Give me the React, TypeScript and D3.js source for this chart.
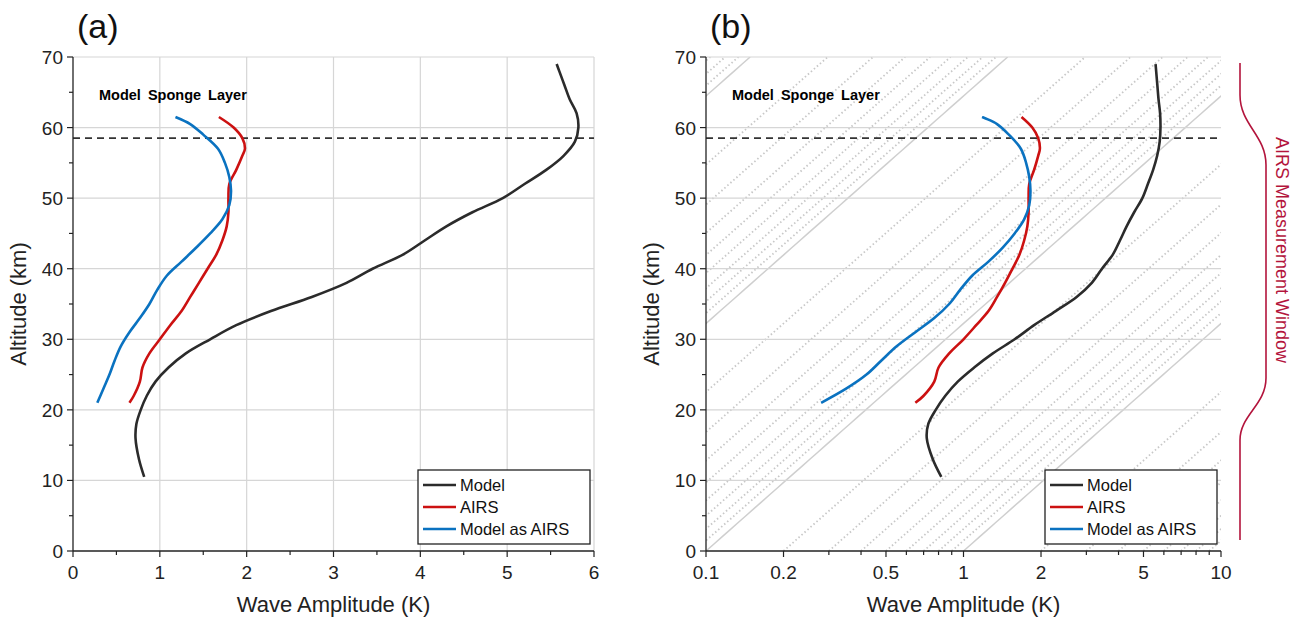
import React from "react";
import * as d3 from "d3";

const modelZ = [10.5, 13, 16, 18, 20, 22, 24, 26, 28, 30, 32, 34, 36, 38, 40, 42, 44, 46, 48, 50, 52, 54, 56, 58, 60, 62, 64, 66, 68, 69];
const modelA = [0.82, 0.76, 0.72, 0.73, 0.78, 0.85, 0.95, 1.1, 1.3, 1.58, 1.88, 2.28, 2.75, 3.15, 3.45, 3.8, 4.05, 4.3, 4.6, 4.95, 5.2, 5.45, 5.65, 5.78, 5.82, 5.8, 5.72, 5.66, 5.6, 5.57];
const airsZ = [21, 22, 24, 26, 28, 30, 32, 34, 36, 38, 40, 42, 44, 46, 48, 50, 52, 54, 56, 57, 58.5, 60, 61.5];
const airsA = [0.65, 0.7, 0.77, 0.8, 0.88, 1.0, 1.12, 1.25, 1.35, 1.45, 1.55, 1.65, 1.72, 1.77, 1.79, 1.79, 1.8, 1.88, 1.95, 1.98, 1.95, 1.85, 1.68];
const masZ = [21, 23, 25, 27, 29, 31, 33, 35, 37, 39, 41, 43, 45, 47, 49, 51, 53, 55, 57, 59, 60.5, 61.5];
const masA = [0.28, 0.35, 0.42, 0.48, 0.55, 0.65, 0.77, 0.88, 0.97, 1.08, 1.25, 1.42, 1.58, 1.72, 1.8, 1.82, 1.8, 1.75, 1.67, 1.5, 1.35, 1.18];
const spongeZ = 58.5;
const yTicks = [0, 10, 20, 30, 40, 50, 60, 70];
const xTicksA = [0, 1, 2, 3, 4, 5, 6];
const xTicksB = [0.1, 0.2, 0.5, 1, 2, 5, 10];
const scaleHeight = 7; // km, growth lines A ∝ exp(z/2H)

const series = [
  { name: "Model", z: modelZ, a: modelA, color: "#2b2b2b" },
  { name: "AIRS", z: airsZ, a: airsA, color: "#cc1111" },
  { name: "Model as AIRS", z: masZ, a: masA, color: "#0a72c0" },
];

const FONT = "'Liberation Sans', Arial, sans-serif";
const top = 57, bottom = 551;

export default function App() {
  const y = d3.scaleLinear().domain([0, 70]).range([bottom, top]);
  const xa = d3.scaleLinear().domain([0, 6]).range([73, 594]);
  const xb = d3.scaleLog().domain([0.1, 10]).range([706, 1221]);
  const grid = "#d6d6d6";

  const panel = (x: any, log: boolean, label: string) => {
    const [x0, x1] = x.range();
    const minorX: number[] = log
      ? d3.range(-1, 1).flatMap((k) => d3.range(1, 10).map((m) => m * 10 ** k)).filter((v) => !xTicksB.includes(v))
      : d3.range(0.5, 6, 1);
    const clipId = "clip" + label;
    const diag: { d: string; major: boolean }[] = [];
    if (log) {
      for (let k = -4; k <= 1; k++)
        for (let m = 1; m <= 9; m++) {
          const a0 = m * 10 ** k;
          const zs = d3.range(0, 70.01, 1).filter((z) => a0 * Math.exp(z / (2 * scaleHeight)) > 0.02 && a0 * Math.exp(z / (2 * scaleHeight)) < 50);
          const d = d3.line<number>().x((z) => x(a0 * Math.exp(z / (2 * scaleHeight)))).y((z) => y(z))(zs) || "";
          diag.push({ d, major: m === 1 });
        }
    }
    return (
      <g>
        <defs>
          <clipPath id={clipId}><rect x={x0} y={top} width={x1 - x0} height={bottom - top} /></clipPath>
        </defs>
        <g clipPath={`url(#${clipId})`}>
          {diag.map((l, i) => (
            <path key={i} d={l.d} fill="none" stroke={l.major ? "#cfcfcf" : "#c8c8c8"} strokeWidth={l.major ? 1.5 : 1.8} strokeDasharray={l.major ? undefined : "1.5 2.5"} />
          ))}
        </g>
        {yTicks.slice(1).map((t) => <line key={t} x1={x0} x2={x1} y1={y(t)} y2={y(t)} stroke={grid} strokeWidth={1.2} />)}
        {!log && xTicksA.slice(1).map((t) => <line key={t} x1={x(t)} x2={x(t)} y1={top} y2={bottom} stroke={grid} strokeWidth={1.2} />)}
        <line x1={x0} x2={x1} y1={y(spongeZ)} y2={y(spongeZ)} stroke="#333" strokeWidth={1.6} strokeDasharray="7 5" />
        <text x={x0 + 26} y={100} fontFamily={FONT} fontWeight="bold" fontSize={14.5} wordSpacing={3}>Model Sponge Layer</text>
        {series.map((s) => (
          <path key={s.name} fill="none" stroke={s.color} strokeWidth={2.6} strokeLinejoin="round"
            d={d3.line<number>().x((v) => x(v)).y((_, i) => y(s.z[i])).curve(d3.curveCatmullRom)(s.a) || ""} />
        ))}
        <line x1={x0} x2={x0} y1={top} y2={bottom} stroke="#222" strokeWidth={1.3} />
        <line x1={x0} x2={x1} y1={bottom} y2={bottom} stroke="#222" strokeWidth={1.3} />
        {d3.range(0, 71, 5).map((t) => (
          <line key={t} x1={x0} x2={x0 - (t % 10 === 0 ? 6 : 4)} y1={y(t)} y2={y(t)} stroke="#222" strokeWidth={1.2} />
        ))}
        {yTicks.map((t) => (
          <text key={t} x={x0 - 10} y={y(t) + 7} textAnchor="end" fontFamily={FONT} fontSize={19} fill="#222">{t}</text>
        ))}
        {(log ? xTicksB : xTicksA).map((t) => (
          <g key={t}>
            <line x1={x(t)} x2={x(t)} y1={bottom} y2={bottom + 6} stroke="#222" strokeWidth={1.2} />
            <text x={x(t)} y={bottom + 28} textAnchor="middle" fontFamily={FONT} fontSize={19} fill="#222">{t}</text>
          </g>
        ))}
        {minorX.map((t) => <line key={"m" + t} x1={x(t)} x2={x(t)} y1={bottom} y2={bottom + 4} stroke="#222" strokeWidth={1.2} />)}
        <text x={(x0 + x1) / 2} y={bottom + 61} textAnchor="middle" fontFamily={FONT} fontSize={22} fill="#222">Wave Amplitude (K)</text>
        <text transform={`translate(${x0 - 47},${(top + bottom) / 2}) rotate(-90)`} textAnchor="middle" fontFamily={FONT} fontSize={22} fill="#222">Altitude (km)</text>
        <text x={x0 + 4} y={38} fontFamily={FONT} fontSize={34} fill="#111">({label})</text>
        <g transform={`translate(${x1 - 176},470)`}>
          <rect width={172} height={74} fill="white" stroke="#222" strokeWidth={1.3} />
          {series.map((s, i) => (
            <g key={s.name} transform={`translate(0,${15 + i * 22})`}>
              <line x1={5} x2={38} y1={0} y2={0} stroke={s.color} strokeWidth={2.6} />
              <text x={42} y={6} fontFamily={FONT} fontSize={16.5} fill="#111">{s.name}</text>
            </g>
          ))}
        </g>
      </g>
    );
  };

  const bx = 1240, bw = 26;
  const brace = `M${bx},63 L${bx},95 C${bx},125 ${bx + bw},135 ${bx + bw},165 L${bx + bw},378 C${bx + bw},405 ${bx},415 ${bx},440 L${bx},540`;

  return (
    <svg width={1301} height={620} style={{ display: "block", position: "absolute", left: 0, top: 0 }}>
      <rect width={1301} height={620} fill="white" />
      {panel(xa, false, "a")}
      {panel(xb, true, "b")}
      <path d={brace} fill="none" stroke="#b3143c" strokeWidth={1.6} />
      <text transform={`translate(1276,250) rotate(90)`} textAnchor="middle" fontFamily={FONT} fontSize={18} fill="#b3143c">AIRS Measurement Window</text>
    </svg>
  );
}
